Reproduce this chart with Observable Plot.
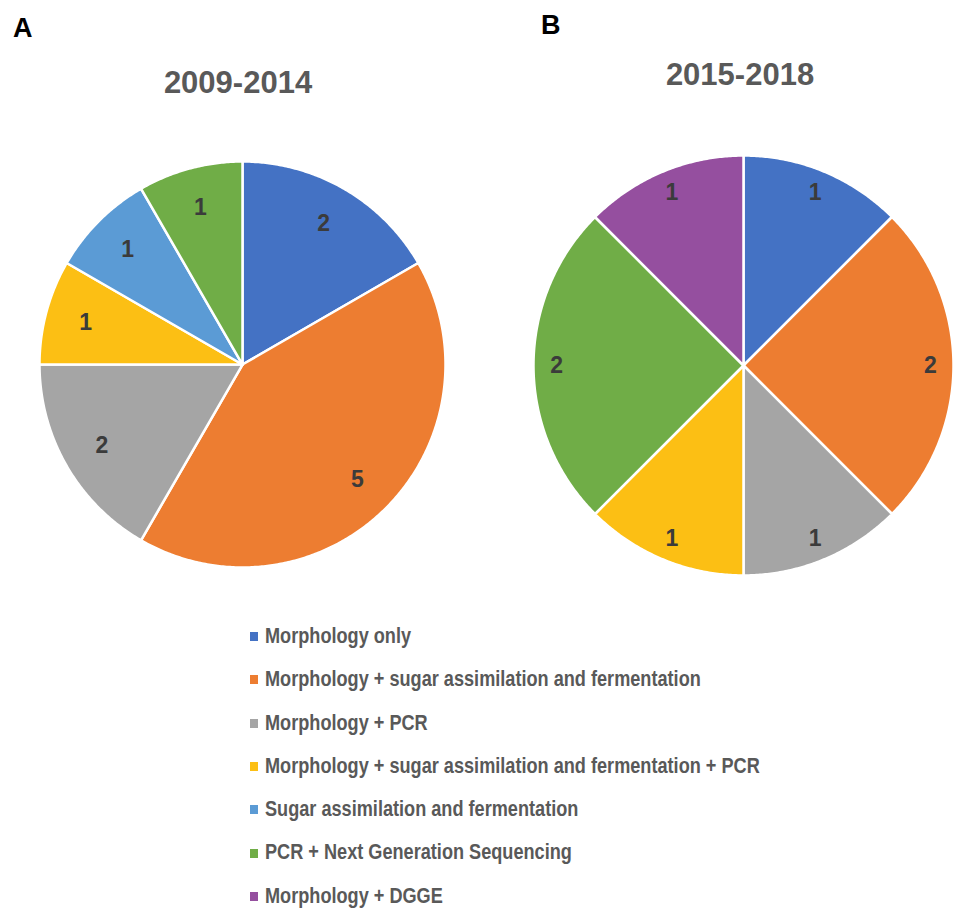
<!DOCTYPE html>
<html><head><meta charset="utf-8">
<script src="https://cdn.jsdelivr.net/npm/d3@7"></script>
<script src="https://cdn.jsdelivr.net/npm/@observablehq/plot@0.6"></script>
<style>
body{margin:0;background:#fff;font-family:Arial,"Liberation Sans",sans-serif;}
#wrap{position:relative;width:963px;height:909px;overflow:hidden;background:#fff;}
.abs{position:absolute;white-space:nowrap;line-height:1;font-weight:bold;}
.pie{position:absolute;top:0;}
.sw{position:absolute;width:8px;height:9px;}
.lt{position:absolute;white-space:nowrap;line-height:1;font-weight:bold;color:#595959;font-size:22.5px;transform:scaleX(0.806);transform-origin:0 0;}
</style></head><body><div id="wrap"></div>
<script>
// ---- data ----
const categories = [
  "Morphology only",
  "Morphology + sugar assimilation and fermentation",
  "Morphology + PCR",
  "Morphology + sugar assimilation and fermentation + PCR",
  "Sugar assimilation and fermentation",
  "PCR + Next Generation Sequencing",
  "Morphology + DGGE"
];
const colors = ["#4472C4","#ED7D31","#A5A5A5","#FCBF14","#5B9BD5","#70AD47","#954F9F"];
const periods = ["2009-2014","2015-2018"];
const panelLetters = ["A","B"];
const countsA = [2,5,2,1,1,1,0];
const countsB = [1,2,1,1,0,2,1];

// ---- build ----
const wrap = document.getElementById("wrap");

function slices(counts){
  const rows = categories.map((c,i)=>({cat:c, count:counts[i]}));
  const arcs = d3.pie().sort(null).value(d=>d.count)(rows).filter(a=>a.data.count>0);
  const pts = [];
  for (const a of arcs){
    const n = Math.max(2, Math.ceil((a.endAngle-a.startAngle)/(Math.PI/360)));
    pts.push({cat:a.data.cat, x:0, y:0});
    for (let k=0;k<=n;k++){
      const t = a.startAngle + (a.endAngle-a.startAngle)*k/n;
      pts.push({cat:a.data.cat, x:Math.sin(t), y:Math.cos(t)});
    }
    pts.push({cat:a.data.cat, x:0, y:0});
  }
  return {arcs, pts};
}

function makePie(counts, o){
  const {arcs, pts} = slices(counts);
  const labels = arcs.map(a=>{
    const m = (a.startAngle+a.endAngle)/2;
    return {x:o.lr*Math.sin(m), y:o.lr*Math.cos(m), text:String(a.data.count)};
  });
  return Plot.plot({
    width:o.width, height:o.height,
    style:{background:"transparent", fontFamily:"Arial, 'Liberation Sans', sans-serif"},
    x:{axis:null, domain:[-1,1], range:[o.cx-o.r, o.cx+o.r]},
    y:{axis:null, domain:[-1,1], range:[o.cy+o.r, o.cy-o.r]},
    color:{domain:categories, range:colors},
    marks:[
      Plot.line(pts,{x:"x", y:"y", z:"cat", fill:"cat", stroke:"white", strokeWidth:2.5, strokeLinejoin:"round"}),
      Plot.text(labels,{x:"x", y:"y", text:"text", fontSize:23, fontWeight:"bold", fill:"#3b3b3b"})
    ]
  });
}

const pA = makePie(countsA,{width:481,height:600,cx:242,cy:364,r:203,lr:0.8});
pA.classList.add("pie"); pA.style.left="0px";
wrap.appendChild(pA);
const pB = makePie(countsB,{width:482,height:600,cx:262,cy:365,r:210,lr:0.89});
pB.classList.add("pie"); pB.style.left="481px";
wrap.appendChild(pB);

function addText(txt, css){
  const d = document.createElement("div");
  d.className="abs"; d.textContent = txt;
  Object.assign(d.style, css);
  wrap.appendChild(d);
}
addText(panelLetters[0],{left:"13px",top:"15px",fontSize:"27px",color:"#000"});
addText(panelLetters[1],{left:"541px",top:"12px",fontSize:"27px",color:"#000"});
addText(periods[0],{left:"138px",width:"200px",textAlign:"center",top:"67px",fontSize:"31px",color:"#595959"});
addText(periods[1],{left:"640px",width:"200px",textAlign:"center",top:"59px",fontSize:"31px",color:"#595959"});

// legend
categories.forEach((c,i)=>{
  const yc = 636.5 + i*43.3;
  const sw = document.createElement("div");
  sw.className="sw"; sw.style.left="250px"; sw.style.top=(yc-4.5)+"px"; sw.style.background=colors[i];
  wrap.appendChild(sw);
  const t = document.createElement("div");
  t.className="lt"; t.textContent=c; t.style.left="265px"; t.style.top=(yc+7.5-0.8465*22.5)+"px";
  wrap.appendChild(t);
});
</script></body></html>
